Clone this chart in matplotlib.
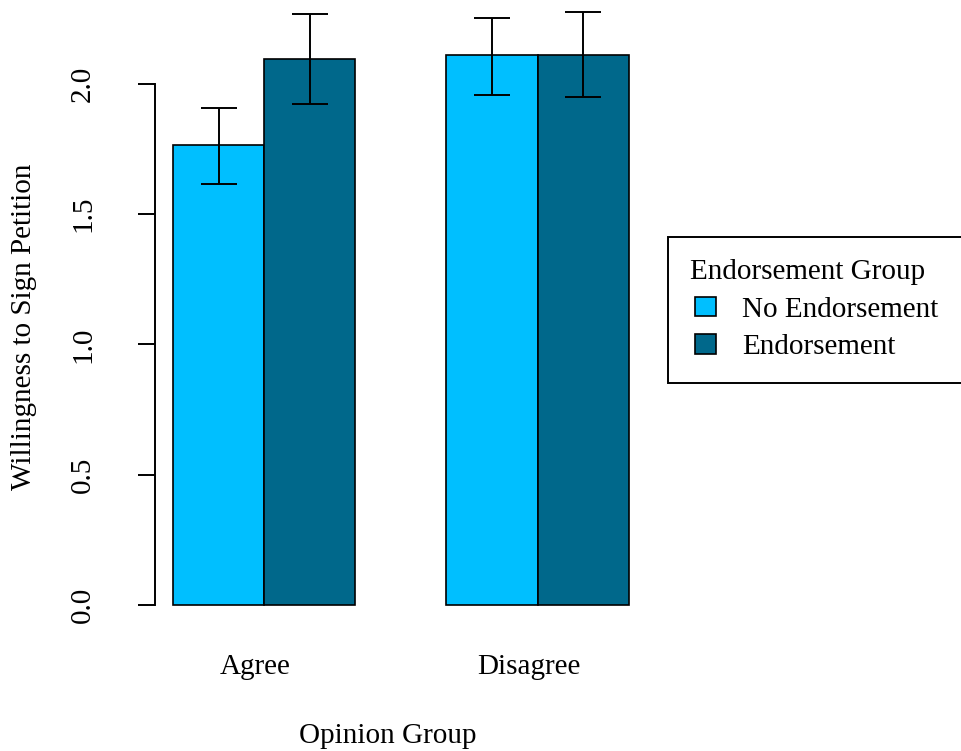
import matplotlib
matplotlib.use("Agg")
import matplotlib.pyplot as plt
import numpy as np
from matplotlib.patches import Rectangle
from matplotlib.legend_handler import HandlerPatch
import matplotlib.transforms as mtransforms

FS = 21
plt.rcParams['font.family'] = ['Liberation Serif', 'DejaVu Serif']
plt.rcParams['font.size'] = FS

# mean willingness and error bar limits, per opinion group
groups = ['Agree', 'Disagree']
series = ['No Endorsement', 'Endorsement']
means = np.array([[1.766, 2.096],
                  [2.111, 2.111]])
err_low = np.array([[1.616, 1.923],
                    [1.958, 1.950]])
err_high = np.array([[1.908, 2.269],
                     [2.253, 2.276]])
colors = ['#00BFFF', '#00688B']
yticks = [0.0, 0.5, 1.0, 1.5, 2.0]

W, H = 962, 751
fig = plt.figure(figsize=(W / 100, H / 100), dpi=100)
# plot region in pixels: x 154.7..647, y 6..626 (0 sits at 605)
ax = fig.add_axes([154.7 / W, (H - 626) / H, 492.3 / W, 620 / H])

lw = 1.4
for i, g in enumerate(groups):
    for j, s in enumerate(series):
        left = 1 + 3 * i + j
        ax.bar(left, means[i, j], width=1, align='edge', color=colors[j],
               edgecolor='black', linewidth=1.2, zorder=2)
        c = left + 0.5
        ax.errorbar(c, means[i, j],
                    yerr=[[means[i, j] - err_low[i, j]], [err_high[i, j] - means[i, j]]],
                    fmt='none', ecolor='black', elinewidth=lw, capsize=13,
                    capthick=lw, zorder=3, clip_on=False)

ax.set_xlim(0.8, 6.2)
ax.set_ylim(-0.0806, 2.2994)

for sp in ['top', 'right', 'bottom']:
    ax.spines[sp].set_visible(False)
ax.spines['left'].set_bounds(0, 2.0)
ax.spines['left'].set_linewidth(lw)

ax.set_yticks(yticks)
ax.set_yticklabels(['%.1f' % v for v in yticks], rotation=90, va='center')
ax.tick_params(axis='y', length=12.2, width=lw, pad=30)

centers = [2 + 3 * i for i in range(len(groups))]
ax.set_xticks(centers)
ax.set_xticklabels(groups)
ax.tick_params(axis='x', length=0, pad=20)
shift = mtransforms.ScaledTranslation(-9 / 100, 0, fig.dpi_scale_trans)
for lab in ax.get_xticklabels():
    lab.set_transform(lab.get_transform() + shift)

ax.set_xlabel('Opinion Group', va='baseline')
ax.xaxis.set_label_coords(387.6 / W, 1 - 743 / H, transform=fig.transFigure)
ax.set_ylabel('Willingness to Sign Petition', va='center')
ax.yaxis.set_label_coords(24 / W, 1 - 327 / H, transform=fig.transFigure)


# legend keys are indented a little from the title
def square(legend, orig_handle, xdescent, ydescent, width, height, fontsize):
    off = 3
    return Rectangle((-xdescent + off, -ydescent), width - off, height)


em = FS * 100 / 72
handles = [Rectangle((0, 0), 1, 1, facecolor=colors[k], edgecolor='black', linewidth=1.2)
           for k in range(len(series))]
leg = fig.legend(handles, series, title='Endorsement Group', loc='upper left',
                 bbox_to_anchor=(668 / W, 1 - 237 / H, 320 / W, 0), mode='expand',
                 alignment='left', fancybox=False, framealpha=1, edgecolor='black',
                 handlelength=26 / em, handleheight=19 / em, handletextpad=26 / em,
                 labelspacing=0.39, borderpad=0.77, borderaxespad=0,
                 handler_map={Rectangle: HandlerPatch(patch_func=square)})
leg.get_frame().set_linewidth(lw)
leg.get_title().set_fontsize(FS)

fig.savefig('out.png', dpi=100)
